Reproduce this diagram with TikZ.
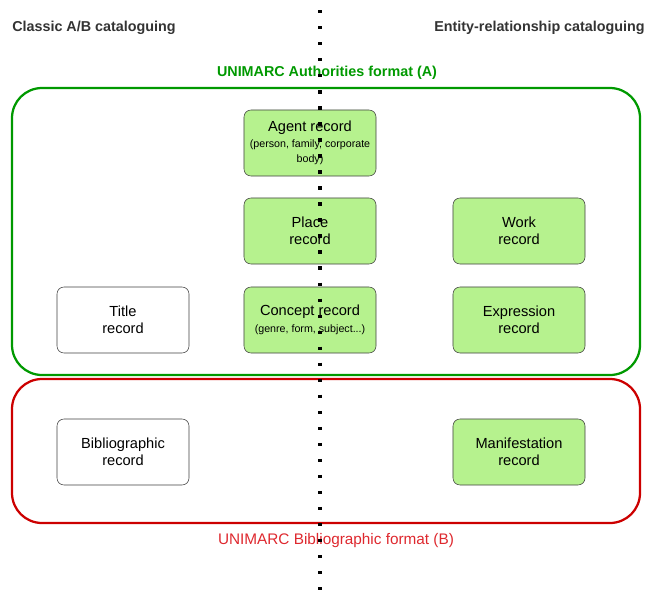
\documentclass[tikz,border=0pt]{standalone}
\usepackage{fontspec}
\setmainfont{Liberation Sans}
\usepackage{xcolor}
\usetikzlibrary{calc}
\definecolor{recgreen}{RGB}{182,242,142}
\definecolor{authgreen}{RGB}{0,153,0}
\definecolor{bibred}{RGB}{204,0,0}
\definecolor{bibtext}{RGB}{222,40,46}

\begin{document}
\begin{tikzpicture}[x=0.025cm,y=-0.025cm,
        record/.style={rectangle, rounded corners=5pt, draw=black!75, fill=recgreen, minimum width=3.3cm, minimum height=1.65cm, align=center, font=\fontsize{10.4}{12}\selectfont, inner sep=1pt},
        oldrecord/.style={record, fill=white},
        format/.style={rounded corners=0.75cm, line width=1.6pt},
        heading/.style={font=\bfseries\fontsize{10.2}{12}\selectfont, text=black!80, inner sep=0pt},
        ]
        \useasboundingbox (0,0) rectangle (651,592);

        \node (classic) at (12,28) [heading, anchor=west] {Classic A/B cataloguing};
        \node (entity) at (645,28) [heading, anchor=east] {Entity-relationship cataloguing};

        % authorities format
        \draw[format, authgreen] (12,88) rectangle (640,375);
        \node (authlabel) at (327,73) [font=\bfseries\fontsize{10.2}{12}\selectfont, text=authgreen] {UNIMARC Authorities format (A)};

        % bibliographic format
        \draw[format, bibred] (12,379) rectangle (640,523);
        \node (biblabel) at (336,541) [font=\fontsize{10.9}{12}\selectfont, text=bibtext] {UNIMARC Bibliographic format (B)};

        \node (agent) at (310,143) [record] {Agent record\\[-1pt]{\fontsize{7.6}{10.5}\selectfont (person, family, corporate}\\[-1pt]{\fontsize{7.6}{10.5}\selectfont body)}};
        \node (place) at (310,231) [record] {Place\\record};
        \node (concept) at (310,320) [record] {Concept record\\{\fontsize{7.6}{10}\selectfont (genre, form, subject...)}};
        \node (title) at (123,320) [oldrecord] {Title\\record};
        \node (work) at (519,231) [record] {Work\\record};
        \node (expression) at (519,320) [record] {Expression\\record};
        \node (biblio) at (123,452) [oldrecord] {Bibliographic\\record};
        \node (manif) at (519,452) [record] {Manifestation\\record};

        % divider
        \coordinate (top) at (320,10);
        \coordinate (bottom) at (320,592);
        \draw[line width=2.4pt, dash pattern=on 2.4pt off 9pt] (top) -- (bottom);
    \end{tikzpicture}
\end{document}
